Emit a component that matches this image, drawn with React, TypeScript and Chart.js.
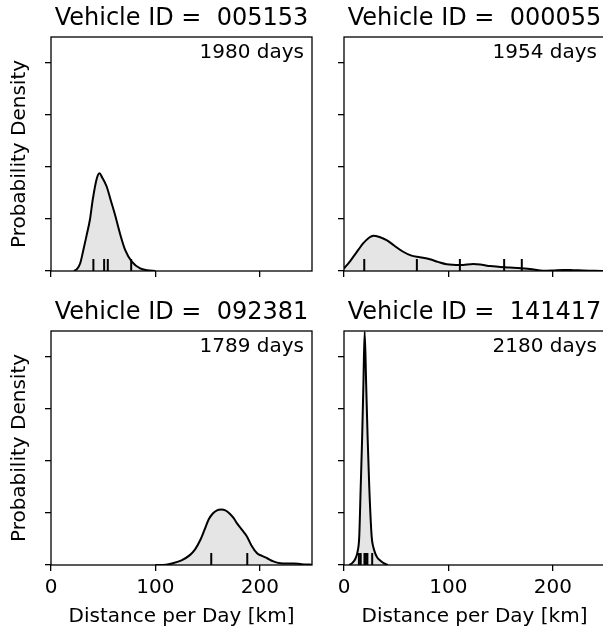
import React, { useEffect, useRef } from "react";
import { Chart, registerables } from "chart.js";

Chart.register(...registerables);

// ---------- data ----------
const vehicleIds = ["005153", "000055", "092381", "141417"];
const dayCounts = [1980, 1954, 1789, 2180];

const xMin = 0;
const xMax = 250;
const xStep = 100;
const yMin = 0;
const yMax = 0.09;
const yStep = 0.02;
const rugY = 0.0023;

const kdeX_005153 = [22, 25, 28, 31, 34, 37.4, 40, 43.8, 46.4, 49, 53.4, 57, 61.4, 66, 71, 77.4, 85.4, 92, 100];
const kdeY_005153 = [0, 0.0008, 0.003, 0.0081, 0.0135, 0.02, 0.0275, 0.0355, 0.0376, 0.036, 0.0324, 0.0275, 0.0215, 0.0145, 0.0081, 0.0036, 0.001, 0.0003, 0];
const rug_005153 = [40.6, 50.9, 54.4, 76.8];

const kdeX_000055 = [0, 5, 9, 14, 18.5, 24, 28, 34, 40.8, 48, 56.7, 64, 72.7, 82.3, 90, 98.3, 111.5, 124, 132, 140, 159, 178, 191, 200, 210, 220, 229, 240, 250];
const kdeY_000055 = [0.001, 0.0033, 0.0055, 0.0083, 0.0107, 0.0128, 0.0136, 0.0131, 0.0119, 0.0098, 0.0074, 0.006, 0.0053, 0.0045, 0.0035, 0.0026, 0.0023, 0.0027, 0.0024, 0.0019, 0.0013, 0.0008, 0.0001, 0.0002, 0.0004, 0.0003, 0.0002, 0.0001, 0];
const rug_000055 = [19.4, 69.8, 111, 153.4, 170.3];

const kdeX_092381 = [100, 110, 117, 125, 133, 138, 143, 147, 151, 155, 159, 163, 167, 171, 175, 178.2, 183, 187.8, 192, 197.4, 202, 207, 213, 219.8, 226, 232, 240, 250];
const kdeY_092381 = [0, 0.0001, 0.0007, 0.0018, 0.0038, 0.006, 0.0096, 0.0135, 0.0175, 0.0198, 0.021, 0.0213, 0.021, 0.0198, 0.018, 0.016, 0.0135, 0.0109, 0.0075, 0.0045, 0.0035, 0.0026, 0.0014, 0.0007, 0.0006, 0.0006, 0.0003, 0.0001];
const rug_092381 = [153.5, 188];

const kdeX_141417 = [5, 8, 11, 13.2, 14.6, 16, 17.4, 18.6, 19.8, 21.2, 22.6, 24.2, 26.5, 28, 29.9, 32, 34.7, 38, 42];
const kdeY_141417 = [0, 0.0008, 0.0025, 0.0055, 0.0109, 0.03, 0.0493, 0.07, 0.0897, 0.07, 0.0493, 0.03, 0.0109, 0.007, 0.0045, 0.0028, 0.0017, 0.0007, 0];
const rug_141417 = [14.3, 16.0, 19.6, 21.0, 22.4, 27.0];

const xAxisTitle = "Distance per Day [km]";
const yAxisTitle = "Probability Density";

const kdeXs = [kdeX_005153, kdeX_000055, kdeX_092381, kdeX_141417];
const kdeYs = [kdeY_005153, kdeY_000055, kdeY_092381, kdeY_141417];
const rugs = [rug_005153, rug_000055, rug_092381, rug_141417];

// ---------- helpers ----------
const FONT = '"DejaVu Sans", "Liberation Sans", sans-serif';

const panelTextPlugin = {
  id: "panelText",
  afterDraw(chart: any, _args: any, opts: any) {
    const { ctx, chartArea: a } = chart;
    ctx.save();
    ctx.strokeStyle = "#000";
    ctx.lineWidth = 1.3;
    ctx.strokeRect(a.left, a.top, a.right - a.left, a.bottom - a.top);
    ctx.fillStyle = "#000";
    ctx.textBaseline = "alphabetic";
    const cx = (a.left + a.right) / 2;
    ctx.font = `24px ${FONT}`;
    ctx.textAlign = "center";
    ctx.fillText(opts.title, cx, a.top - 12);
    ctx.font = `20px ${FONT}`;
    ctx.textAlign = "right";
    ctx.fillText(opts.days, a.right - 8, a.top + 21);
    if (opts.xLabel) {
      ctx.textAlign = "center";
      ctx.fillText(opts.xLabel, cx, a.bottom + 57);
    }
    if (opts.yLabel) {
      ctx.translate(25, (a.top + a.bottom) / 2);
      ctx.rotate(-Math.PI / 2);
      ctx.textAlign = "center";
      ctx.fillText(opts.yLabel, 0, 0);
    }
    ctx.restore();
  },
};

type PanelProps = {
  idx: number;
  left: number;
  top: number;
  width: number;
  height: number;
  padLeft: number;
  padRight: number;
  padTop: number;
  yWidth: number;
  xHeight: number;
  showX: boolean;
  showY: boolean;
};

function Panel(p: PanelProps) {
  const ref = useRef<HTMLCanvasElement | null>(null);
  useEffect(() => {
    if (!ref.current) return;
    const xs = kdeXs[p.idx];
    const ys = kdeYs[p.idx];
    const gridOpts = {
      display: true,
      drawOnChartArea: false,
      drawTicks: true,
      tickLength: 6,
      tickWidth: 1.3,
      tickColor: "#000",
      color: "#000",
      lineWidth: 1.3,
    };
    const chart = new Chart(ref.current, {
      type: "line",
      data: {
        datasets: [
          {
            type: "line",
            data: rugs[p.idx].map((v) => ({ x: v, y: rugY })),
            showLine: false,
            pointStyle: "line",
            pointRotation: 90,
            pointRadius: 6,
            pointBorderColor: "#000",
            pointBorderWidth: 2,
            pointBackgroundColor: "#000",
          } as any,
          {
            type: "line",
            data: xs.map((x, i) => ({ x, y: ys[i] })),
            borderColor: "#000",
            borderWidth: 2,
            backgroundColor: "#e5e5e5",
            fill: "origin",
            pointRadius: 0,
            cubicInterpolationMode: "monotone",
          } as any,
        ],
      },
      options: {
        animation: false,
        responsive: false,
        devicePixelRatio: 1,
        events: [],
        layout: { padding: { left: p.padLeft, right: p.padRight, top: p.padTop, bottom: 0 } },
        plugins: {
          legend: { display: false },
          tooltip: { enabled: false },
          title: { display: false },
          panelText: {
            title: "Vehicle ID =  " + vehicleIds[p.idx],
            days: dayCounts[p.idx] + " days",
            xLabel: p.showX ? xAxisTitle : "",
            yLabel: p.showY ? yAxisTitle : "",
          },
        } as any,
        scales: {
          x: {
            type: "linear",
            min: xMin,
            max: xMax,
            ticks: {
              stepSize: xStep,
              includeBounds: false,
              display: p.showX,
              color: "#000",
              font: { family: FONT, size: 20 },
              padding: 5,
              maxRotation: 0,
              autoSkip: false,
            },
            grid: gridOpts,
            border: { display: false },
            afterFit: (s: any) => {
              s.height = p.xHeight;
            },
          },
          y: {
            type: "linear",
            min: yMin,
            max: yMax,
            ticks: { stepSize: yStep, includeBounds: false, display: false },
            grid: gridOpts,
            border: { display: false },
            afterFit: (s: any) => {
              s.width = p.yWidth;
            },
          },
        },
      } as any,
      plugins: [panelTextPlugin],
    });
    return () => chart.destroy();
  }, []);
  return (
    <canvas
      ref={ref}
      width={p.width}
      height={p.height}
      style={{ position: "absolute", left: p.left, top: p.top, width: p.width, height: p.height }}
    />
  );
}

export default function App() {
  const leftCol = { left: 0, width: 328, padLeft: 0, padRight: 16, yWidth: 51, showY: true };
  const rightCol = { left: 328, width: 292, padLeft: 0, padRight: 15, yWidth: 16, showY: false };
  const topRow = { top: 0, height: 300, padTop: 37, xHeight: 29, showX: false };
  const botRow = { top: 300, height: 330, padTop: 31, xHeight: 65, showX: true };
  return (
    <div
      style={{
        position: "fixed",
        left: 0,
        top: 0,
        width: 603,
        height: 630,
        overflow: "hidden",
        background: "#fff",
      }}
    >
      <Panel idx={0} {...leftCol} {...topRow} />
      <Panel idx={1} {...rightCol} {...topRow} />
      <Panel idx={2} {...leftCol} {...botRow} />
      <Panel idx={3} {...rightCol} {...botRow} />
    </div>
  );
}
